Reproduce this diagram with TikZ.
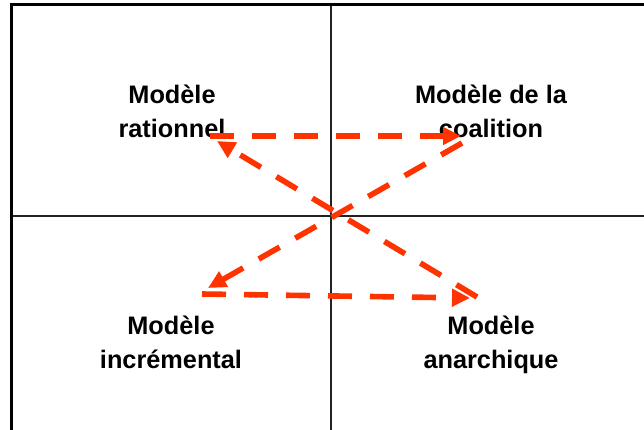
\documentclass[tikz,border=0pt]{standalone}
\usepackage{fontspec}
\setmainfont{Liberation Sans}
\usetikzlibrary{arrows.meta}
\definecolor{arrowred}{HTML}{FF3300}
\definecolor{gridgray}{HTML}{222222}
\tikzset{
  label/.style={font=\fontsize{25.3}{34}\selectfont\bfseries, align=center, inner sep=0pt, anchor=base},
  frameline/.style={line width=3.2pt, black},
  gridline/.style={line width=1.6pt, gridgray},
  flow/.style={arrowred, line width=5.6pt, dash pattern=on 24pt off 18pt,
    -{Triangle[length=18pt,width=17pt]}},
}
\begin{document}
\begin{tikzpicture}[x=1pt,y=-1pt]
\useasboundingbox (0,0) rectangle (644,430);
% grid
\coordinate (vt) at (331,5);
\coordinate (vb) at (331,430);
\coordinate (hl) at (12,216);
\coordinate (hr) at (644,216);
\draw[gridline] (vt) -- (vb);
\draw[gridline] (hl) -- (hr);
% frame
\coordinate (tl) at (11.7,4.7);
\coordinate (tr) at (644,4.7);
\coordinate (bl) at (11.7,430);
\draw[frameline] (bl) -- (tl) -- (tr);
% labels
\node[label] (rat) at (172,138) {Modèle\\rationnel};
\node[label] (coa) at (491,138) {Modèle de la\\coalition};
\node[label] (inc) at (171,368) {Modèle\\incrémental};
\node[label] (ana) at (491,368) {Modèle\\anarchique};
% arrow ends
\coordinate (a1s) at (210,136);
\coordinate (a1e) at (461,136);
\coordinate (a2s) at (477,297);
\coordinate (a2e) at (217,141);
\coordinate (a3s) at (462,143);
\coordinate (a3e) at (208,288);
\coordinate (a4s) at (202,294);
\coordinate (a4e) at (470,298);
\draw[flow] (a1s) -- (a1e);
\draw[flow] (a2s) -- (a2e);
\draw[flow] (a3s) -- (a3e);
\draw[flow] (a4s) -- (a4e);
\end{tikzpicture}
\end{document}
